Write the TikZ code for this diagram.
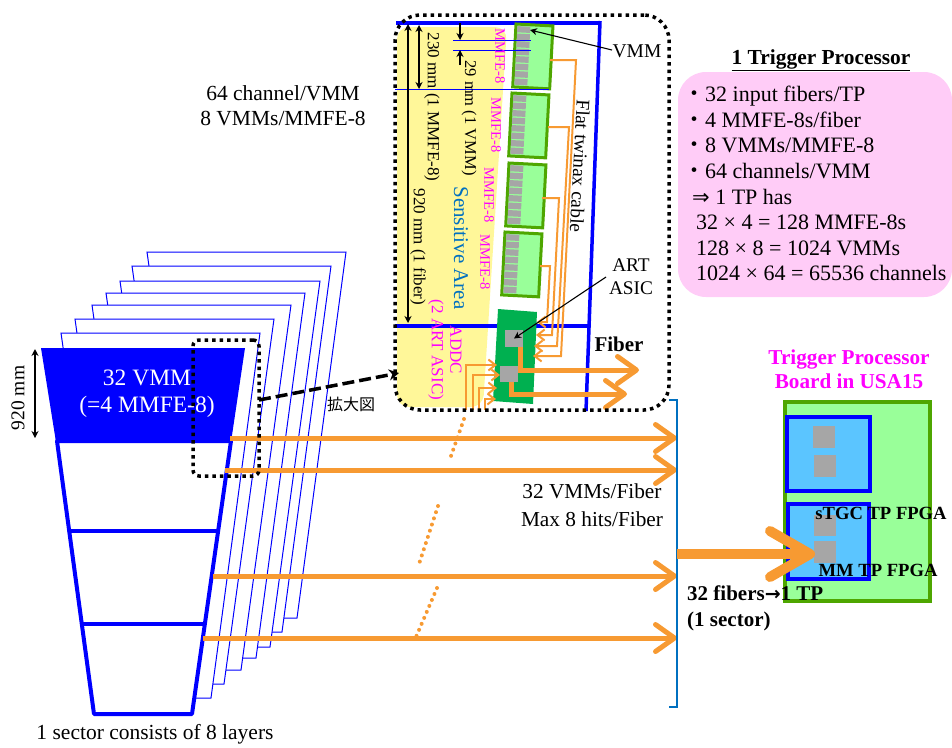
\documentclass[tikz,border=0pt]{standalone}
\usepackage{fontspec}
\setmainfont{Liberation Serif}
\newfontfamily\cjk{Noto Sans CJK JP}
\newfontfamily\symb{DejaVu Sans}
\usetikzlibrary{arrows.meta}
\definecolor{fiberorange}{HTML}{F79A32}
\definecolor{boardgreen}{HTML}{99FF99}
\definecolor{boardedge}{HTML}{4EA600}
\definecolor{artgreen}{HTML}{00B050}
\definecolor{chipgrey}{HTML}{A6A6A6}
\definecolor{areayellow}{HTML}{FFF799}
\definecolor{fpgablue}{HTML}{5BC5FF}
\definecolor{bracketblue}{HTML}{0070C0}
\definecolor{summarypink}{HTML}{FFCCF7}
\definecolor{labelmagenta}{HTML}{FF00FF}
\begin{document}
\begin{tikzpicture}[x=1pt, y=-1pt,
    label19/.style={inner sep=0pt, font=\fontsize{21.5}{25}\selectfont, align=center},
    label17/.style={inner sep=0pt, font=\fontsize{19}{23}\selectfont, align=center},
    sidelabel/.style={inner sep=0pt, rotate=-90, font=\fontsize{17}{20}\selectfont},
    mmfelabel/.style={inner sep=0pt, rotate=-90, text=labelmagenta, font=\fontsize{14.5}{18}\selectfont},
    layer/.style={draw=blue, fill=white, line width=1pt},
    sectorline/.style={draw=blue, line width=3.5pt, line join=round},
    thinblue/.style={draw=blue, line width=1pt},
    dimline/.style={draw=black, line width=1.2pt, {Stealth[length=7pt,width=7pt]}-{Stealth[length=7pt,width=7pt]}},
    dimhalf/.style={draw=black, line width=1.2pt, -{Stealth[length=7pt,width=7pt]}},
    pointer/.style={draw=black, line width=1.1pt, -{Stealth[length=7pt,width=7pt]}},
    fiber/.style={draw=fiberorange, line width=5pt, -{Straight Barb[length=19pt,width=27pt,line width=5pt,round]}},
    cable/.style={draw=fiberorange, line width=2pt, line join=miter},
    cablein/.style={cable, -{Straight Barb[length=7pt,width=11pt,line width=2pt]}},
    fiberdots/.style={draw=fiberorange, line width=4pt, line cap=round, dash pattern=on 0pt off 6.5pt},
    mmfe/.style={draw=boardedge, fill=boardgreen, line width=3pt},
    chip/.style={fill=chipgrey, inner sep=0pt},
    fpga/.style={draw=blue, fill=fpgablue},
    zoombox/.style={draw=black, line width=3.5pt, dash pattern=on 3.5pt off 4pt},
    ]
    \useasboundingbox (0,0) rectangle (952,747);

    % sector layers
    \foreach \tl/\tr/\ty/\br/\by in {147/346/252/297/618, 132/331/266/282/632, 120/320/281/270/647, 106/305/293/256/658, 92/291/305/241/670, 75/274/319/224/684, 61/260/333/211/698}
        \draw[layer] (\tl,\ty) -- (\tr,\ty) -- (\br,\by) -- (\br-98,\by) -- cycle;
    \draw[sectorline, fill=white, line width=4pt] (57,441) -- (231,441) -- (192,714) -- (94,714) -- cycle;
    \draw[sectorline] (69,531) -- (218,531);
    \draw[sectorline] (81,624) -- (204,624);
    \fill[blue] (41,348) -- (245,348) -- (231,442) -- (56,442) -- cycle;
    \node[label19, text=white, font=\fontsize{23.5}{27}\selectfont] (vmm32) at (147,394) {32 VMM\\(=4 MMFE-8)};

    \coordinate (dimtop) at (35,349);
    \coordinate (dimbot) at (35,438);
    \draw[dimline] (dimtop) -- (dimbot);
    \node[label19, rotate=90, font=\fontsize{19.5}{23}\selectfont] (mm920) at (18,398) {920 mm};
    \node[label19] (layers) at (155,734) {1 sector consists of 8 layers};

    % fibers to the bracket
    \foreach \i/\xs/\yy in {1/230/438, 2/225/470, 3/213/576, 4/203/638} {
        \coordinate (fs\i) at (\xs,\yy);
        \coordinate (fe\i) at (677,\yy);
        \draw[fiber] (fs\i) -- (fe\i);
    }
    \foreach \i/\xa/\ya/\xb/\yb in {1/464/419/451/456, 2/438/506/419/564, 3/437/588/416/637} {
        \coordinate (da\i) at (\xa,\ya);
        \coordinate (db\i) at (\xb,\yb);
        \draw[fiberdots] (da\i) -- (db\i);
    }
    \coordinate (bra) at (669,400);
    \coordinate (brb) at (677,400);
    \coordinate (brc) at (677,707);
    \coordinate (brd) at (669,707);
    \draw[draw=bracketblue, line width=2pt] (bra) -- (brb) -- (brc) -- (brd);

    % inset
    \fill[areayellow, rounded corners=12pt] (397,27) -- (507,27) -- (483,407) -- (397,407) -- cycle;
    \draw[sectorline] (396,23) -- (600,23);
    \draw[sectorline] (600,21) -- (586,411);
    \draw[sectorline] (395,326) -- (588,326);

    \foreach \bx/\by in {516/24, 512/93, 509/163, 505/232} {
        \begin{scope}[shift={(\bx,\by)}, rotate=-3]
            \draw[mmfe] (0,0) rectangle (37,63);
            \foreach \k in {0,...,7}
                \fill[chipgrey] (1.5,{2+7.5*\k}) rectangle +(13,6.2);
        \end{scope}
    }
    \draw[thinblue] (395,89) -- (549,89);
    \draw[thinblue] (453,40) -- (531,40);
    \draw[thinblue] (453,50) -- (531,50);

    \fill[artgreen] (498,309) -- (537,312) -- (533,404) -- (493,401) -- cycle;
    \node[chip, minimum width=18pt, minimum height=17pt] (art1) at (514,338.5) {};
    \node[chip, minimum width=18pt, minimum height=16pt] (art2) at (509,374) {};

    % flat twinax cables
    \foreach \i/\xa/\ya/\xb/\xc/\yc/\xd in {1/550/60/576/561/356/533, 2/548/127/569/557/346/534, 3/542/198/559/552/335/536, 4/540/266/550/547/322/537} {
        \coordinate (ca\i) at (\xa,\ya);
        \coordinate (cb\i) at (\xb,\ya);
        \coordinate (cc\i) at (\xc,\yc);
        \coordinate (cd\i) at (\xd,\yc);
        \draw[cablein] (ca\i) -- (cb\i) -- (cc\i) -- (cd\i);
    }
    \foreach \i/\xa/\yb/\xb in {1/466/365/497, 2/473/375/500, 3/479/388/497, 4/485/399/496} {
        \coordinate (ia\i) at (\xa,410);
        \coordinate (ib\i) at (\xa,\yb);
        \coordinate (ic\i) at (\xb,\yb);
        \draw[cablein] (ia\i) -- (ib\i) -- (ic\i);
    }

    \coordinate (fo1) at (639,370);
    \coordinate (fo2) at (627,394);
    \draw[fiber, line join=miter] (art1.south east) ++(-2.5,0) |- (fo1);
    \draw[fiber, line join=miter] (art2.south) ++(2,0) |- (fo2);

    \coordinate (vmmfoot) at (612,50);
    \coordinate (vmmhead) at (530,30);
    \draw[pointer] (vmmfoot) -- (vmmhead);
    \coordinate (artfoot) at (606,277);
    \draw[pointer] (artfoot) -- (art1.center);

    \foreach \i/\xx/\ya/\yb in {1/408/24/323, 2/419/25/89} {
        \coordinate (va\i) at (\xx,\ya);
        \coordinate (vb\i) at (\xx,\yb);
        \draw[dimline] (va\i) -- (vb\i);
    }
    \coordinate (vma) at (460,23);
    \coordinate (vmb) at (460,40);
    \coordinate (vmc) at (460,65);
    \coordinate (vmd) at (460,50);
    \draw[dimhalf] (vma) -- (vmb);
    \draw[dimhalf] (vmc) -- (vmd);

    \node[sidelabel] (dim230) at (432,107) {230 mm (1 MMFE-8)};
    \node[sidelabel, font=\fontsize{16.5}{20}\selectfont] (dim29) at (469,118) {29 mm (1 VMM)};
    \node[sidelabel] (dim920) at (418,247) {920 mm (1 fiber)};
    \node[sidelabel, text=bracketblue, font=\fontsize{21}{24}\selectfont] (sensitive) at (461,248) {Sensitive Area};
    \node[mmfelabel] (mm1) at (500,56) {MMFE-8};
    \node[mmfelabel] (mm2) at (496,125) {MMFE-8};
    \node[mmfelabel] (mm3) at (489,195) {MMFE-8};
    \node[mmfelabel] (mm4) at (485,262) {MMFE-8};
    \node[mmfelabel, font=\fontsize{17}{21}\selectfont] (addc) at (456,350) {ADDC};
    \node[mmfelabel, font=\fontsize{17}{21}\selectfont] (addcart) at (436,350) {(2 ART ASIC)};
    \node[sidelabel, rotate=-3, font=\fontsize{19.3}{21}\selectfont] (twinax) at (580,166) {Flat twinax cable};
    \node[label19, font=\fontsize{19.5}{23}\selectfont] (vmmname) at (637,51) {VMM};
    \node[label17, font=\fontsize{19.3}{23}\selectfont] (artname) at (631,277) {ART\\ASIC};
    \node[label19, font=\bfseries\fontsize{21}{23}\selectfont] (fibername) at (619,344) {Fiber};

    \node[zoombox, rounded corners=25pt, minimum width=274pt, minimum height=395pt] (inset) at (532,212.5) {};
    \node[zoombox, rounded corners=6pt, minimum width=66pt, minimum height=136pt] (source) at (226,408) {};
    \coordinate (srcout) at (259,400);
    \coordinate (insetin) at (399,373);
    \draw[draw=black, line width=3.5pt, dash pattern=on 12pt off 5pt, -{Stealth[length=10pt,width=11pt]}] (srcout) -- (insetin);
    \node[label17, font=\cjk\fontsize{16}{20}\selectfont] (zoomtag) at (351,404) {拡大図};

    % labels around the inset
    \node[label19] (perchannel) at (283,105.5) {64 channel/VMM\\8 VMMs/MMFE-8};
    \node[label19, font=\fontsize{21.3}{28}\selectfont] (perfiber) at (592,505) {32 VMMs/Fiber\\Max 8 hits/Fiber};

    % trigger processor summary
    \node[inner sep=0pt, font=\bfseries\fontsize{21.4}{23}\selectfont] (tptitle) at (821,60) {\underline{1 Trigger Processor}};
    \node[fill=summarypink, rounded corners=28pt, minimum width=274pt, minimum height=225pt] (summary) at (815,184.5) {};
    \node[inner sep=0pt, anchor=north west, align=left, font=\fontsize{22}{25.6}\selectfont] (summarytext) at (683,86)
        {{\cjk・}32 input fibers/TP\\{\cjk・}4 MMFE-8s/fiber\\{\cjk・}8 VMMs/MMFE-8\\{\cjk・}64 channels/VMM\\
         \hspace{9pt}{\symb\fontsize{21}{25.6}\selectfont ⇒} 1 TP has\\ \hspace{13pt}32 × 4 = 128 MMFE-8s\\ \hspace{13pt}128 × 8 = 1024 VMMs\\ \hspace{13pt}1024 × 64 = 65536 channels};

    % trigger processor board
    \node[label19, text=labelmagenta, font=\bfseries\fontsize{21.2}{24}\selectfont] (boardtitle) at (849,369) {Trigger Processor\\Board in USA15};
    \node[draw=boardedge, fill=boardgreen, line width=4pt, minimum width=145pt, minimum height=199pt] (tpboard) at (857.5,501.5) {};
    \node[fpga, line width=4.5pt, minimum width=83pt, minimum height=74pt] (fpgaup) at (828.5,454) {};
    \node[fpga, line width=3.5pt, minimum width=81pt, minimum height=75pt] (fpgalow) at (828.5,541.5) {};
    \node[chip, minimum width=22pt, minimum height=22pt] (chipa) at (824,437) {};
    \node[chip, minimum width=22pt, minimum height=22pt] (chipb) at (825,466) {};
    \node[chip, minimum width=22pt, minimum height=21pt] (chipc) at (825,525.5) {};
    \node[chip, minimum width=22pt, minimum height=22pt] (chipd) at (825,552) {};
    \coordinate (fatstart) at (677,554);
    \coordinate (fattip) at (815,554);
    \draw[draw=fiberorange, line width=10pt, -{Straight Barb[length=40pt,width=46pt,line width=10pt,round]}] (fatstart) -- (fattip);
    \node[label17, font=\bfseries\fontsize{18.6}{21}\selectfont] (stgc) at (881,513) {sTGC TP FPGA};
    \node[label17, font=\bfseries\fontsize{18.6}{21}\selectfont] (mmfpga) at (878,570) {MM TP FPGA};
    \node[inner sep=0pt, anchor=north west, align=left, font=\bfseries\fontsize{21}{26}\selectfont] (fibers32) at (687,586) {32 fibers{\symb\bfseries\fontsize{19}{26}\selectfont →}1 TP\\(1 sector)};
\end{tikzpicture}
\end{document}
